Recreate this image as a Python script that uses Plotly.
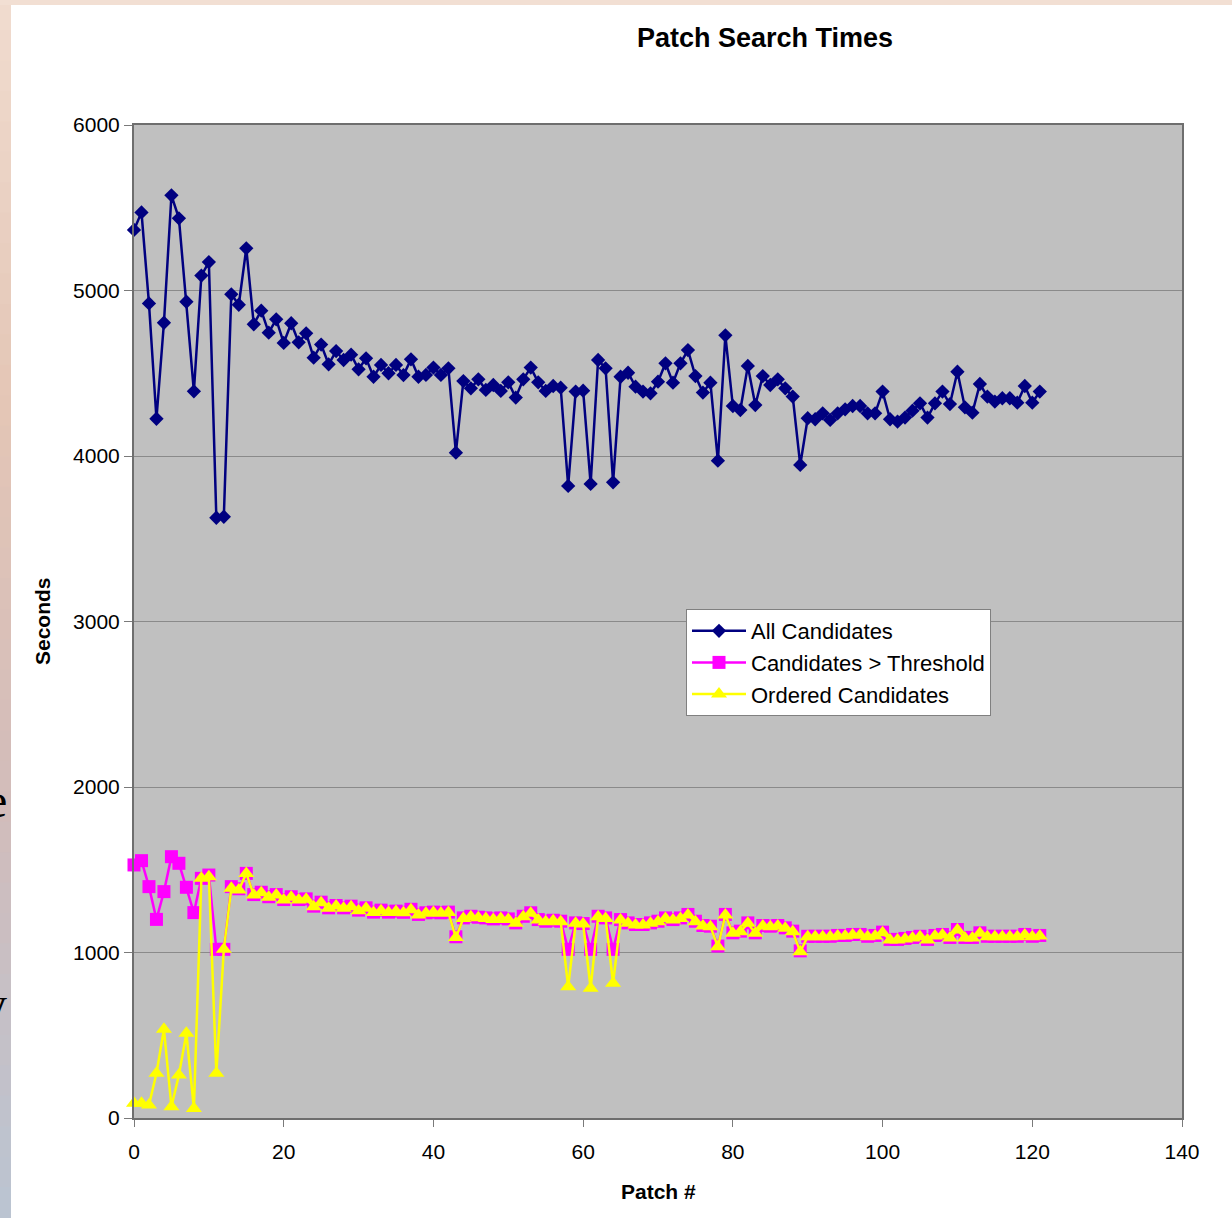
import plotly.graph_objects as go

# ---------------- data ----------------
patch = list(range(122))

all_candidates = [
    5366, 5472, 4922, 4225, 4805, 5575, 5436, 4932, 4391, 5090,
    5172, 3627, 3633, 4977, 4914, 5255, 4796, 4878, 4745, 4826,
    4683, 4802, 4687, 4741, 4594, 4673, 4554, 4634, 4580, 4612,
    4524, 4590, 4479, 4550, 4500, 4550, 4489, 4584, 4479, 4490,
    4534, 4490, 4530, 4020, 4453, 4409, 4463, 4399, 4429, 4393,
    4445, 4353, 4463, 4534, 4445, 4393, 4423, 4413, 3819, 4389,
    4395, 3831, 4580, 4530, 3841, 4479, 4503, 4419, 4389, 4379,
    4449, 4560, 4443, 4560, 4640, 4483, 4383, 4443, 3972, 4729,
    4302, 4278, 4544, 4308, 4483, 4429, 4463, 4409, 4359, 3946,
    4228, 4222, 4258, 4218, 4258, 4282, 4302, 4302, 4258, 4258,
    4389, 4222, 4208, 4232, 4274, 4318, 4232, 4318, 4389, 4314,
    4509, 4294, 4262, 4435, 4359, 4329, 4349, 4349, 4322, 4423,
    4322, 4389,
]

candidates_threshold = [
    1529, 1555, 1398, 1200, 1368, 1579, 1539, 1394, 1241, 1448,
    1468, 1019, 1019, 1398, 1385, 1478, 1350, 1364, 1337, 1350,
    1320, 1337, 1320, 1324, 1280, 1304, 1270, 1284, 1270, 1280,
    1256, 1270, 1244, 1256, 1244, 1250, 1243, 1261, 1230, 1240,
    1244, 1240, 1244, 1095, 1209, 1219, 1213, 1209, 1203, 1209,
    1203, 1179, 1219, 1240, 1199, 1189, 1195, 1189, 1019, 1179,
    1175, 1019, 1219, 1209, 1019, 1199, 1179, 1169, 1169, 1179,
    1189, 1209, 1199, 1209, 1230, 1189, 1163, 1159, 1039, 1230,
    1119, 1129, 1179, 1119, 1163, 1159, 1163, 1149, 1129, 1010,
    1098, 1098, 1098, 1098, 1103, 1103, 1109, 1109, 1098, 1103,
    1123, 1079, 1079, 1085, 1091, 1098, 1079, 1103, 1109, 1091,
    1139, 1091, 1091, 1119, 1098, 1098, 1098, 1098, 1098, 1109,
    1098, 1103,
]

ordered_candidates = [
    89, 89, 78, 270, 536, 68, 260, 512, 58, 1448,
    1458, 270, 1019, 1388, 1378, 1478, 1347, 1361, 1334, 1347,
    1317, 1334, 1317, 1321, 1277, 1301, 1267, 1281, 1267, 1277,
    1253, 1267, 1241, 1253, 1241, 1247, 1240, 1258, 1227, 1237,
    1241, 1237, 1241, 1090, 1206, 1216, 1210, 1206, 1200, 1206,
    1200, 1176, 1216, 1237, 1196, 1186, 1192, 1186, 793, 1176,
    1172, 784, 1216, 1206, 814, 1196, 1176, 1166, 1166, 1176,
    1186, 1206, 1196, 1206, 1227, 1186, 1160, 1156, 1035, 1227,
    1116, 1126, 1176, 1116, 1160, 1156, 1160, 1146, 1126, 1005,
    1095, 1095, 1095, 1095, 1100, 1100, 1106, 1106, 1095, 1100,
    1120, 1076, 1076, 1082, 1088, 1095, 1076, 1100, 1106, 1088,
    1136, 1088, 1088, 1116, 1095, 1095, 1095, 1095, 1095, 1106,
    1095, 1100,
]

series_names = ["All Candidates", "Candidates > Threshold", "Ordered Candidates"]
x_ticks = [0, 20, 40, 60, 80, 100, 120, 140]
y_ticks = [0, 1000, 2000, 3000, 4000, 5000, 6000]

# ---------------- figure ----------------
W, H = 1232, 1218
L, R, T, B = 134, 50, 125, 100
PW, PH = W - L - R, H - T - B

def px_x(p):
    return (p - L) / PW

def px_y(p):
    return (H - B - p) / PH

FONT = "Liberation Sans, Arial, sans-serif"

fig = go.Figure()
fig.add_trace(go.Scatter(
    x=patch, y=all_candidates, name=series_names[0], mode="lines+markers",
    line=dict(color="#000080", width=2.5), cliponaxis=False,
    marker=dict(symbol="diamond", size=11, color="#000080"),
))
fig.add_trace(go.Scatter(
    x=patch, y=candidates_threshold, name=series_names[1], mode="lines+markers",
    line=dict(color="#ff00ff", width=2.5), cliponaxis=False,
    marker=dict(symbol="square", size=13, color="#ff00ff"),
))
fig.add_trace(go.Scatter(
    x=patch, y=ordered_candidates, name=series_names[2], mode="lines+markers",
    line=dict(color="#ffff00", width=2.5), cliponaxis=False,
    marker=dict(symbol="triangle-up", size=14, color="#ffff00"),
))

# slide background strips (left gradient & top band)
def lerp(c1, c2, t):
    return "#%02x%02x%02x" % tuple(int(round(a + (b - a) * t)) for a, b in zip(c1, c2))

stops = [(0, (240, 220, 207)), (400, (228, 198, 182)), (800, (210, 188, 186)), (1218, (186, 196, 210))]
shapes = []
n = 40
for k in range(n):
    y0 = k * H / n
    y1 = (k + 1) * H / n
    ym = (y0 + y1) / 2
    for (a, ca), (b, cb) in zip(stops[:-1], stops[1:]):
        if a <= ym <= b:
            col = lerp(ca, cb, (ym - a) / (b - a))
            break
    shapes.append(dict(type="rect", xref="paper", yref="paper", layer="below",
                       x0=px_x(0), x1=px_x(11), y0=px_y(y1 + 0.5), y1=px_y(y0 - 0.5),
                       fillcolor=col, line=dict(width=0)))
shapes.append(dict(type="rect", xref="paper", yref="paper", layer="below",
                   x0=px_x(0), x1=px_x(W), y0=px_y(5), y1=px_y(0),
                   fillcolor="#f2dfd3", line=dict(width=0)))

annotations = [
    dict(text="<b>Seconds</b>", xref="paper", yref="paper", x=px_x(42), y=px_y(621),
         xanchor="center", yanchor="middle", textangle=-90, showarrow=False,
         font=dict(family=FONT, size=21, color="#000000")),
    dict(text="<b>Patch #</b>", xref="paper", yref="paper", x=px_x(658), y=px_y(1191),
         xanchor="center", yanchor="middle", showarrow=False,
         font=dict(family=FONT, size=21, color="#000000")),
    dict(text="e", xref="paper", yref="paper", x=px_x(9), y=px_y(800),
         xanchor="right", yanchor="middle", showarrow=False,
         font=dict(family="Liberation Serif, serif", size=48, color="#000000")),
    dict(text="y", xref="paper", yref="paper", x=px_x(9), y=px_y(1003),
         xanchor="right", yanchor="middle", showarrow=False,
         font=dict(family="Liberation Serif, serif", size=48, color="#000000")),
]

fig.update_layout(
    width=W, height=H,
    margin=dict(l=L, r=R, t=T, b=B, pad=0),
    paper_bgcolor="#ffffff",
    plot_bgcolor="#c0c0c0",
    font=dict(family=FONT, size=21, color="#000000"),
    title=dict(text="<b>Patch Search Times</b>", x=765 / W, xanchor="center",
               y=1 - 38 / H, yanchor="middle", xref="container", yref="container",
               font=dict(family=FONT, size=27, color="#000000")),
    showlegend=True,
    legend=dict(x=px_x(686), y=px_y(609), xanchor="left", yanchor="top",
                bgcolor="#ffffff", bordercolor="#808080", borderwidth=1,
                font=dict(family=FONT, size=22, color="#000000"),
                tracegroupgap=0, itemwidth=54),
    shapes=shapes,
    annotations=annotations,
)
fig.update_xaxes(
    range=[0, 140], tickvals=x_ticks, ticktext=[str(v) for v in x_ticks],
    showgrid=False, zeroline=False,
    showline=True, linecolor="#6e6e6e", linewidth=2, mirror=True,
    ticks="outside", ticklen=7, tickcolor="#7a7a7a", tickwidth=1,
    ticklabelstandoff=7,
    tickfont=dict(family=FONT, size=21, color="#000000"),
)
fig.update_yaxes(
    range=[0, 6000], tickvals=y_ticks, ticktext=[str(v) for v in y_ticks],
    showgrid=True, gridcolor="#8a8a8a", gridwidth=1, zeroline=False,
    showline=True, linecolor="#6e6e6e", linewidth=2, mirror=True,
    ticks="outside", ticklen=8, tickcolor="#7a7a7a", tickwidth=1,
    tickfont=dict(family=FONT, size=21, color="#000000"),
)

fig.write_html("out.html")
